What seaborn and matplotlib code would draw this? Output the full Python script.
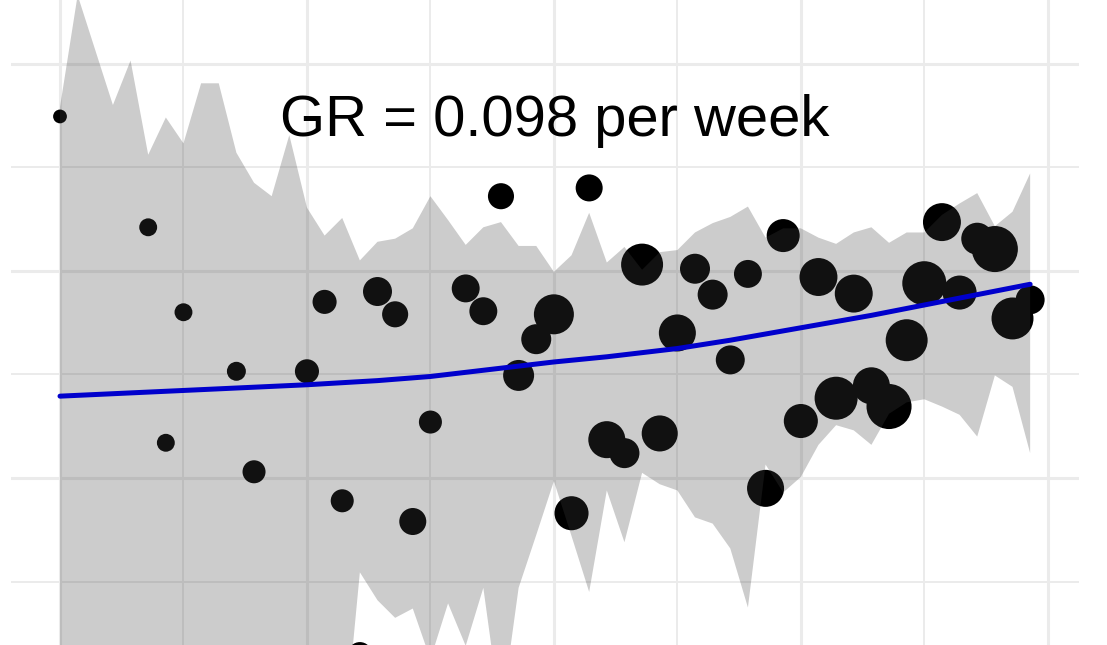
import numpy as np
import pandas as pd
import matplotlib
matplotlib.use("Agg")
import matplotlib.pyplot as plt
from matplotlib.ticker import MultipleLocator
import seaborn as sns

# ---------------- data ----------------
weeks = list(range(56))
ribbon_upper = [3.58, 4.66, 4.13, 3.60, 4.03, 3.12, 3.48, 3.23, 3.81, 3.81,
                3.14, 2.85, 2.72, 3.31, 2.61, 2.34, 2.51, 2.10, 2.28, 2.31,
                2.41, 2.72, 2.49, 2.25, 2.42, 2.47, 2.24, 2.24, 1.99, 2.15,
                2.56, 2.08, 2.23, 2.01, 2.18, 2.20, 2.37, 2.46, 2.52, 2.62,
                2.32, 2.41, 2.41, 2.32, 2.26, 2.37, 2.42, 2.27, 2.37, 2.37,
                2.54, 2.65, 2.75, 2.43, 2.57, 2.94]
ribbon_lower = [-2.2, -2.9, -2.5, -2.1, -2.6, -1.9, -2.2, -2.0, -2.4, -2.3,
                -1.9, -1.8, -1.9, -2.0, -1.8, -1.75, -2.7, -0.91, -1.18, -1.35,
                -1.26, -1.75, -1.21, -1.62, -1.06, -2.3, -1.06, -0.55, -0.03, -0.56,
                -1.10, -0.12, -0.62, 0.05, -0.06, -0.12, -0.38, -0.44, -0.68, -1.25,
                0.13, -0.14, 0.01, 0.32, 0.51, 0.46, 0.32, 0.62, 0.73, 0.76,
                0.69, 0.61, 0.40, 0.99, 0.88, 0.24]

point_week = [0, 5, 6, 7, 10, 11, 14, 15, 16, 17, 18, 19, 20, 21, 23, 24, 25,
              26, 27, 28, 29, 30, 31, 32, 33, 34, 35, 36, 37, 38, 39, 40, 41,
              42, 43, 44, 45, 46, 47, 48, 49, 50, 51, 52, 53, 54, 55]
point_value = [3.49, 2.42, 0.34, 1.60, 1.03, 0.06, 1.03, 1.70, -0.22, -1.70,
               1.80, 1.58, -0.42, 0.54, 1.83, 1.61, 2.72, 0.99, 1.34, 1.58,
               -0.34, 2.80, 0.37, 0.24, 2.06, 0.43, 1.40, 2.02, 1.77, 1.14,
               1.97, -0.10, 2.34, 0.55, 1.94, 0.77, 1.78, 0.89, 0.69, 1.33,
               1.88, 2.47, 1.79, 2.31, 2.21, 1.54, 1.72]
point_n = [19, 32, 32, 32, 36, 53, 58, 58, 53, 58, 84, 68, 73, 53, 78, 78, 68,
           96, 90, 160, 116, 73, 137, 90, 176, 130, 137, 90, 90, 84, 78, 137, 109,
           116, 144, 185, 144, 137, 203, 176, 194, 144, 116, 102, 212, 176, 84]

fit_week = [0, 7, 14, 18, 21, 25, 28, 31, 33, 35, 38, 42, 46, 49, 52, 55]
fit_value = [0.79, 0.845, 0.90, 0.94, 0.98, 1.06, 1.12, 1.17, 1.21, 1.25,
             1.33, 1.45, 1.57, 1.67, 1.77, 1.87]

label_text = "GR = 0.098 per week"

# ---------------- plot ----------------
sns.set_theme(style="white")
plt.rcParams["font.family"] = ["Liberation Sans", "DejaVu Sans"]

fig = plt.figure(figsize=(11.07, 6.45), dpi=100)
ax = fig.add_axes([11 / 1107, 0, 1068 / 1107, 1])
ax.set_facecolor("white")

points = pd.DataFrame({"week": point_week, "value": point_value, "n": point_n})
area_per_n = 5.184
sns.scatterplot(data=points, x="week", y="value", size="n",
                sizes=(area_per_n * min(point_n), area_per_n * max(point_n)),
                color="black", linewidth=0, legend=False, ax=ax, zorder=2)

ax.fill_between(weeks, ribbon_lower, ribbon_upper, color="#404040",
                alpha=0.267, linewidth=0, zorder=3)

sns.lineplot(x=fit_week, y=fit_value, color="#0000CC", linewidth=3.6,
             ax=ax, zorder=4)

ax.text(28.06, 3.30, label_text, ha="center", va="baseline",
        fontsize=41.8, color="black", zorder=5)

ax.set_xlim(-2.778, 57.77)
ax.set_ylim(-1.612, 4.614)
ax.xaxis.set_major_locator(MultipleLocator(14))
ax.xaxis.set_minor_locator(MultipleLocator(7))
ax.yaxis.set_major_locator(MultipleLocator(2))
ax.yaxis.set_minor_locator(MultipleLocator(1))
ax.set_axisbelow(True)
ax.grid(which="major", color="#ebebeb", linewidth=2.2)
ax.grid(which="minor", color="#ebebeb", linewidth=1.4)
ax.tick_params(which="both", length=0, labelleft=False, labelbottom=False)
for s in ax.spines.values():
    s.set_visible(False)
ax.set_xlabel("")
ax.set_ylabel("")

fig.savefig("out.png", dpi=100)
